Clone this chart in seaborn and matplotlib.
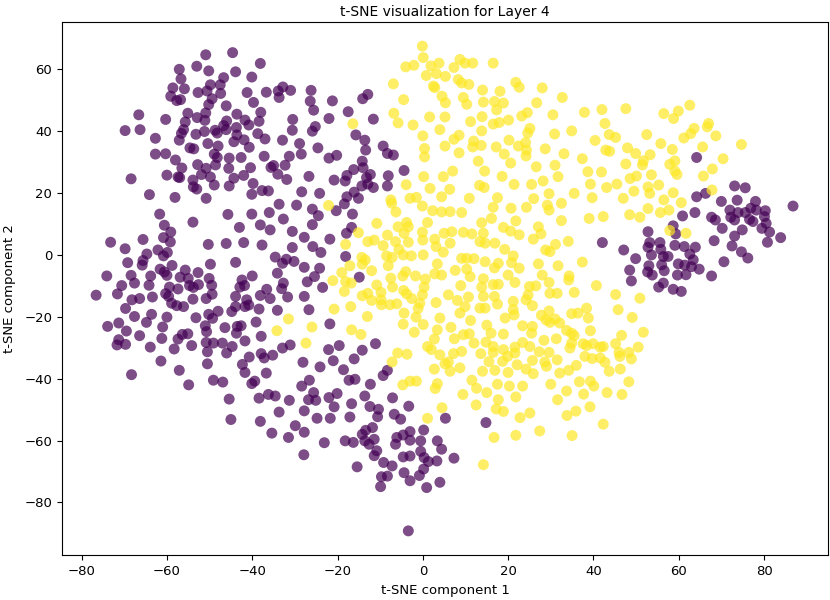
import matplotlib
matplotlib.use("Agg")
import matplotlib.pyplot as plt
import seaborn as sns
import pandas as pd

# Class 0 (purple) points
class0_points = [
    (-50.9,64.7),(-44.6,65.4),(-57.1,60.0),(-53.0,61.0),(-50.2,59.5),(-43.9,59.2),(-56.7,56.9),(-46.7,57.3),(-40.1,57.5),
    (-58.6,54.0),(-55.9,53.7),(-49.8,55.0),(-47.5,55.0),(-52.7,52.5),(-50.6,53.0),(-47.4,52.2),(-41.2,52.5),(-59.1,51.3),
    (-57.7,49.9),(-56.8,50.2),(-49.4,50.5),(-50.2,48.6),(-46.1,48.2),(-39.7,49.3),(-66.6,45.3),(-60.3,43.8),(-55.1,45.8),
    (-50.9,45.9),(-52.9,44.4),(-51.1,43.5),(-43.6,45.5),(-41.7,43.6),(-69.8,40.2),(-66.3,40.5),(-55.7,43.0),(-56.1,40.5),
    (-46.0,43.3),(-46.7,41.8),(-48.7,40.3),(-43.7,41.2),(-40.8,42.0),(-51.2,39.9),(-53.2,39.0),(-48.2,39.4),(-46.1,40.5),
    (-56.6,39.3),(-62.7,37.7),(-57.1,37.1),(-43.6,38.8),(-41.9,37.2),(-44.3,36.6),(-50.4,36.0),(-48.0,35.2),(-40.7,34.8),
    (-54.6,34.6),(-53.7,34.3),(-62.7,32.6),(-60.3,32.7),(-48.9,32.6),(-48.2,31.5),(-45.4,31.3),(-42.6,31.5),(-58.0,30.7),
    (-52.8,29.2),(-48.6,29.1),(-56.5,28.1),(-50.8,28.0),(-45.5,28.0),(-40.4,28.2),(-68.4,24.6),(-60.0,25.8),(-57.4,25.2),
    (-57.0,25.0),(-51.9,26.0),(-49.8,25.2),(-53.9,24.2),(-44.3,24.8),(-42.0,25.7),(-53.8,22.0),(-53.0,21.3),(-48.9,22.6),
    (-45.4,22.3),(-39.8,23.1),(-64.1,19.5),(-58.1,18.6),(-50.8,18.3),(-40.1,19.6),
    (-38.1,61.9),(-36.7,52.6),(-33.9,53.0),(-32.8,54.3),(-31.0,53.2),(-33.7,50.9),(-26.2,53.2),(-26.4,49.7),(-21.2,49.8),
    (-25.6,46.8),(-38.0,46.1),(-38.4,43.2),(-30.5,43.8),(-22.0,44.1),(-17.5,46.3),(-14.1,50.5),(-12.9,51.9),(-11.6,43.9),
    (-38.7,39.2),(-37.0,37.5),(-30.6,40.3),(-25.2,41.5),(-25.9,40.0),(-32.9,37.1),(-28.9,36.0),(-24.6,34.6),(-15.7,38.8),
    (-13.6,37.1),(-13.4,33.9),(-9.3,35.2),(-8.3,32.8),(-6.9,32.3),(-37.2,31.9),(-31.3,31.9),(-28.5,32.6),(-22.0,31.3),
    (-20.2,32.2),(-14.2,30.3),(-35.6,28.3),(-35.0,28.9),(-32.3,29.0),(-34.0,26.1),(-31.9,24.4),(-26.7,25.4),(-20.8,24.2),
    (-18.2,23.9),(-17.8,25.7),(-16.2,27.6),(-14.0,28.2),(-12.3,26.0),(-13.2,25.0),(-12.9,22.9),(-11.6,21.8),(-8.3,22.3),
    (-8.1,25.6),(-4.4,27.3),(-14.3,22.3),(-16.1,20.3),(-37.7,20.8),(-36.2,20.7),(-28.4,20.4),(-24.2,19.9),(-17.8,18.8),
    (-15.1,18.3),
    (-61.7,13.2),(-53.9,10.6),(-45.7,13.1),(-40.1,13.2),(-60.6,9.6),(-59.1,7.4),(-43.0,8.9),(-73.2,4.1),(-65.6,5.0),
    (-60.8,5.6),(-59.2,4.2),(-50.3,3.4),(-46.1,3.7),(-42.0,4.0),(-69.8,2.0),(-62.1,1.6),(-59.9,0.8),(-60.8,-0.3),
    (-64.7,0.3),(-65.6,-1.8),(-65.8,-3.3),(-69.2,-2.5),(-49.8,-3.0),(-43.9,-2.4),(-58.8,-3.4),(-61.6,-4.6),(-60.6,-5.5),
    (-60.0,-6.6),(-55.7,-4.9),(-52.7,-5.7),(-74.1,-6.8),(-68.4,-6.6),(-63.8,-6.8),(-56.9,-7.2),(-55.0,-7.6),(-50.1,-7.6),
    (-40.0,-6.8),(-42.4,-8.1),(-67.6,-9.1),(-70.6,-9.9),(-64.2,-9.8),(-59.4,-10.4),(-57.4,-11.0),(-54.7,-9.9),(-53.8,-10.5),
    (-49.5,-9.8),(-52.6,-9.6),(-42.9,-10.4),(-41.8,-9.9),(-76.6,-13.0),(-71.6,-12.6),(-63.4,-13.6),(-60.3,-12.5),(-59.6,-13.4),
    (-68.2,-14.5),(-66.4,-14.1),(-53.9,-14.3),(-50.8,-14.1),(-49.4,-12.7),(-43.9,-13.4),(-58.9,-15.6),(-57.7,-16.4),(-56.1,-16.7),
    (-41.3,-14.5),(-69.7,-17.3),(-48.0,-18.2),(-44.8,-18.3),(-43.9,-16.7),(-41.7,-16.7),(-40.8,-16.2),(-67.6,-19.9),(-63.6,-19.2),
    (-60.0,-20.1),(-53.2,-20.3),(-50.2,-19.2),(-49.3,-20.5),(-73.9,-23.1),(-71.3,-22.0),(-64.8,-21.8),(-61.0,-23.3),(-51.0,-22.9),
    (-46.4,-23.5),(-43.5,-23.1),(-42.6,-22.9),(-69.5,-24.6),(-50.7,-24.8),(-43.7,-25.3),(-66.4,-26.1),(-61.2,-27.0),(-56.4,-25.7),
    (-55.1,-25.5),(-57.4,-27.2),(-71.3,-27.4),(-71.7,-29.1),(-69.7,-28.9),(-63.9,-29.8),(-58.3,-30.4),(-54.2,-29.3),(-50.8,-28.3),
    (-49.1,-28.5),(-47.0,-28.5),(-44.7,-29.6),(-41.7,-27.8),(-50.5,-31.3),(-46.0,-31.7),(-40.7,-33.0),(-61.4,-34.3),(-50.5,-35.2),
    (-42.3,-35.4),(-41.7,-38.0),(-57.1,-37.3),(-68.3,-38.7),
    (-54.9,-42.0),(-49.1,-40.5),(-46.9,-41.1),(-45.4,-46.6),(-45.0,-53.2),(-40.1,-41.6),(-39.4,-40.8),
    (-33.7,16.4),(-29.6,16.1),(-25.9,14.8),(-24.5,12.7),(-20.3,14.3),(-18.4,16.5),(-16.5,13.2),(-36.0,13.7),(-32.7,11.6),
    (-38.1,9.7),(-35.8,8.1),(-30.6,7.6),(-25.9,9.8),(-16.7,8.9),(-17.9,7.0),(-27.8,5.7),(-21.8,5.1),(-37.7,3.2),
    (-30.6,2.4),(-25.8,2.7),(-23.9,0.8),(-18.1,-0.5),(-34.6,-0.7),(-32.0,-1.4),(-32.9,-2.7),(-30.2,-2.1),(-27.8,-4.0),
    (-24.2,-4.3),(-14.9,-7.2),(-34.1,-5.9),(-25.4,-7.0),(-27.1,-8.7),(-32.7,-9.1),(-33.1,-10.9),(-23.5,-10.5),(-36.6,-11.1),
    (-38.1,-13.1),(-35.8,-14.1),(-31.7,-13.6),(-27.8,-13.4),(-38.4,-17.5),(-34.1,-17.9),(-26.7,-17.7),(-39.1,-21.7),(-21.8,-22.3),
    (-37.9,-26.3),(-31.1,-29.1),(-32.9,-30.1),(-11.1,-28.7),(-22.1,-30.6),(-19.6,-29.3),(-14.2,-30.8),(-37.9,-31.9),(-35.2,-32.4),
    (-37.2,-33.3),(-28.1,-34.7),(-21.0,-34.2),(-16.1,-33.6),(-24.1,-36.2),(-18.6,-37.1),(-8.3,-37.3),(-9.3,-39.0),(-36.7,-38.2),
    (-38.4,-46.3),(-36.2,-45.1),(-34.6,-45.6),(-31.3,-47.0),(-28.4,-42.4),(-26.6,-40.5),(-25.6,-44.5),(-26.8,-46.8),(-25.1,-47.0),
    (-22.0,-46.1),(-20.1,-44.8),(-20.8,-49.1),(-17.3,-40.5),(-15.9,-40.2),(-12.3,-41.8),(-33.7,-50.8),(-27.8,-50.4),(-38.1,-53.8),
    (-24.8,-52.8),(-21.7,-52.8),(-16.7,-48.1),(-17.1,-52.4),(-13.6,-45.6),(-12.4,-49.0),(-10.4,-49.9),(-10.6,-52.3),(-7.1,-46.2),
    (-6.7,-51.5),(-5.2,-53.1),(-3.3,-48.9),(-29.9,-55.2),(-35.4,-57.6),(-31.5,-59.0),(-27.8,-57.3),(-23.1,-60.7),(-18.2,-60.1),
    (-16.3,-60.6),(-14.2,-58.0),(-13.4,-56.7),(-11.8,-55.8),(-13.6,-60.1),(-12.6,-61.2),(-11.4,-59.6),(-10.8,-63.3),(-11.4,-64.9),
    (-27.9,-64.6),(-9.2,-67.1),(-7.2,-68.2),(-15.4,-68.5),(-9.7,-71.7),(-8.3,-71.5),(-9.9,-74.9),(-6.1,-59.0),(-4.6,-58.2),
    (-3.0,-57.1),(0.2,-56.6),(-6.4,-61.2),(-3.0,-59.9),(-0.5,-60.1),(3.4,-60.1),(4.4,-62.8),(-4.6,-65.3),(-3.0,-65.0),
    (-0.5,-63.5),(0.3,-65.5),(1.3,-66.8),(3.3,-66.6),(0.2,-69.2),(-4.4,-70.4),(-0.8,-71.3),(-3.0,-73.0),(0.9,-75.2),
    (4.0,-73.5),(-3.4,-89.2),(5.3,-52.8),(14.8,-54.2),(7.3,-65.7),
    (42.1,4.0),(47.1,1.6),(49.9,-1.2),(48.5,-4.9),(48.9,-8.4),
    (64.2,31.5),(73.1,22.3),(75.6,21.7),(64.2,18.8),(66.3,19.9),
    (70.0,17.3),(73.7,17.7),(78.0,17.3),(86.8,15.8),(72.0,14.5),(73.9,13.7),(75.6,13.7),(76.9,15.1),(78.2,14.5),
    (80.3,14.3),(63.8,13.7),(60.9,12.6),(67.7,12.2),(68.6,11.3),(72.2,12.2),(73.1,11.3),(76.6,11.5),(77.4,10.8),
    (80.1,12.4),(80.5,10.2),(58.7,9.4),(59.3,6.8),(52.8,7.5),(70.2,8.6),(74.9,8.1),(79.5,8.6),(81.3,7.4),
    (83.9,5.6),(73.1,6.1),(80.8,4.1),(68.3,4.6),(53.2,4.0),(55.6,4.0),(59.1,3.1),(61.3,2.7),(63.9,2.5),
    (52.8,2.5),(55.8,1.8),(72.5,2.9),(74.7,1.0),(76.2,-1.0),(62.6,0.3),(53.6,0.0),(56.4,-0.5),(57.5,-0.5),
    (63.4,-1.6),(70.6,-2.2),(59.9,-2.9),(61.4,-3.3),(56.0,-3.2),(53.0,-3.5),(63.0,-3.8),(64.8,-4.6),(52.7,-5.5),
    (56.6,-5.1),(53.8,-6.5),(59.7,-6.5),(61.7,-6.4),(67.7,-6.8),(56.4,-9.1),(55.3,-10.4),(58.7,-11.1),(60.6,-11.8),
]

# Class 1 (yellow) points
class1_points = [
    (-0.1,67.5),(0.1,63.8),(-4.0,60.8),(-2.1,61.3),(1.9,61.1),(3.8,62.0),(0.8,58.0),(3.2,58.6),(5.3,57.7),
    (-6.9,55.3),(2.5,54.6),(2.8,54.1),(4.5,51.3),(-4.5,50.2),(5.3,49.2),(-6.8,45.8),(1.6,44.6),(-5.8,42.7),
    (-2.3,42.0),(5.2,44.6),(-16.4,42.4),(4.0,40.5),(0.0,38.5),(0.4,34.4),(0.4,31.7),(5.2,35.2),(0.2,25.3),
    (4.8,25.3),(-3.9,22.7),(1.7,21.5),(-3.0,18.3),(-1.5,18.6),(4.4,18.8),(-7.5,17.8),
    (8.7,63.2),(7.3,60.6),(9.9,62.0),(11.7,62.0),(16.5,62.0),(8.3,56.7),(9.1,55.6),(10.8,55.1),(21.8,55.8),
    (22.6,54.2),(28.0,54.0),(14.0,53.3),(18.1,52.9),(32.7,50.9),(9.5,50.9),(10.3,48.7),(14.2,49.4),(16.8,49.6),
    (18.9,49.1),(26.7,49.2),(17.3,46.9),(24.5,46.0),(23.2,44.9),(30.5,45.3),(37.9,46.1),(42.0,47.0),(47.6,47.3),
    (13.9,44.7),(11.2,43.1),(16.5,42.3),(17.9,42.8),(20.1,43.6),(25.1,40.9),(24.6,39.4),(30.9,39.1),(34.9,40.1),
    (42.7,42.5),(43.7,38.9),(45.2,38.0),(13.8,40.1),(8.5,38.7),(7.3,37.4),(11.9,36.8),(11.7,34.9),(13.7,35.4),
    (20.2,37.1),(24.1,36.3),(17.2,34.9),(22.4,35.2),(24.3,33.9),(24.2,32.0),(28.7,34.3),(40.4,37.0),(42.9,33.9),
    (43.8,33.5),(48.0,34.6),(49.9,32.8),(8.5,33.0),(19.1,32.6),(33.1,32.7),(13.0,30.3),(20.6,29.7),(26.6,28.5),
    (31.0,29.0),(37.4,31.1),(47.6,29.4),(7.0,27.1),(14.5,27.1),(38.7,26.9),(41.9,26.8),(18.6,25.4),(31.7,25.3),
    (48.6,24.7),(50.1,25.5),(6.3,21.2),(13.3,22.5),(14.4,21.8),(21.4,22.8),(25.5,22.8),(28.2,23.9),(39.3,22.9),
    (43.1,21.8),(45.5,22.9),(49.5,20.6),(10.9,18.3),(17.5,18.5),(26.0,18.2),(29.6,19.8),(35.5,19.9),(39.7,18.5),
    (47.0,18.3),
    (62.6,48.4),(56.5,45.7),(59.9,46.5),(58.8,44.1),(67.0,42.5),(66.7,41.4),(63.6,40.9),(62.8,39.2),(61.2,37.8),
    (68.7,38.5),(52.5,38.9),(55.8,36.0),(58.5,34.1),(65.6,34.9),(74.7,35.7),(53.3,32.4),(51.7,30.4),(51.5,29.1),
    (59.1,30.4),(57.9,29.3),(70.4,31.1),(67.9,27.8),(59.1,27.1),(59.6,26.0),(53.6,25.9),(65.8,25.5),(55.3,22.6),
    (52.8,22.0),(53.2,19.9),(58.7,20.1),(67.8,21.0),(56.5,17.8),
    (60.6,16.9),(52.8,15.0),(55.7,13.7),(57.7,14.5),(50.9,12.2),(57.9,7.9),(61.7,7.0),(50.9,-14.0),(51.7,-25.0),
    (-22.1,16.0),(-7.3,16.7),(-6.3,13.9),(-0.1,15.8),(2.3,14.3),(4.4,13.9),(-10.8,10.2),(-5.8,9.1),(-3.8,10.5),
    (-3.4,9.1),(1.1,10.5),(-15.1,7.2),(-8.3,6.4),(-4.4,7.0),(-0.1,7.4),(5.0,7.0),(-18.1,3.4),(-12.9,4.3),
    (-11.4,4.8),(-9.3,3.0),(-6.4,4.3),(-3.4,4.1),(0.0,4.8),(2.8,5.1),(3.1,2.7),(4.8,0.9),(-14.3,-0.8),
    (-13.5,-1.6),(-8.5,-0.3),(-5.6,1.8),(-4.6,0.0),(-2.7,-0.3),(0.1,0.0),(-17.1,-3.5),(-14.2,-3.0),(-8.1,-3.5),
    (-7.2,-0.8),(3.4,-2.9),(-19.0,-5.7),(-12.0,-5.1),(-7.5,-7.5),(-4.0,-5.4),(-4.7,-6.8),(-1.7,-6.8),(0.6,-7.8),
    (2.8,-6.1),(4.4,-6.5),(-21.1,-8.3),(-18.1,-8.6),(-16.8,-9.1),(-18.4,-11.8),(-10.8,-9.7),(-7.1,-10.4),(0.3,-10.4),
    (-9.8,-12.1),(-14.2,-13.2),(-12.9,-12.4),(-4.5,-11.5),(-3.8,-12.6),(-2.6,-14.1),(-0.1,-12.9),(-12.0,-14.7),(-9.8,-14.5),
    (-9.7,-16.1),(-7.7,-16.1),(-6.1,-15.8),(-0.7,-15.6),(-1.1,-17.3),(3.1,-15.4),(-20.8,-17.5),(-16.9,-16.7),(-4.4,-18.8),
    (-13.0,-19.9),(-1.6,-20.1),(4.0,-20.4),(-31.5,-20.7),(-4.6,-22.4),(0.1,-22.5),(-26.0,-23.3),(-16.7,-24.2),(3.4,-24.2),
    (-34.2,-24.5),(-14.5,-25.7),(-2.0,-25.0),(2.7,-27.2),(-27.4,-28.5),(1.1,-29.6),(2.0,-30.6),(-5.9,-31.7),(-3.7,-32.1),
    (4.0,-32.3),(-7.2,-34.6),(5.2,-35.2),(2.7,-36.9),
    (6.4,14.0),(9.1,13.7),(16.5,15.4),(20.7,15.1),(24.3,15.4),(29.2,16.1),(29.6,14.5),(32.5,16.7),(39.0,11.8),
    (42.3,12.4),(48.5,13.0),(13.8,10.4),(16.1,11.8),(21.8,11.0),(32.5,11.1),(27.1,9.1),(6.8,7.5),(9.5,7.3),
    (11.5,6.8),(14.2,7.0),(18.9,8.9),(20.6,7.7),(22.6,6.5),(27.7,6.8),(25.9,5.1),(6.4,3.8),(13.4,4.3),
    (14.6,3.8),(16.9,3.8),(31.1,3.4),(34.1,4.4),(28.8,1.6),(29.8,1.1),(19.2,1.8),(9.1,-1.1),(10.3,-1.1),
    (12.0,-1.2),(14.6,-2.2),(21.2,-0.3),(20.8,-2.5),(17.7,-2.7),(16.8,-4.2),(22.6,-4.3),(27.1,-2.9),(31.7,-3.5),
    (37.4,-2.3),(7.6,-5.0),(10.3,-4.6),(11.1,-7.0),(20.0,-6.5),(28.0,-6.5),(34.3,-6.8),(34.2,-8.1),(14.2,-7.7),
    (13.8,-10.4),(16.5,-9.6),(17.7,-9.5),(21.6,-8.9),(25.0,-10.2),(26.5,-10.0),(29.6,-8.9),(40.7,-9.9),(8.9,-9.9),
    (6.0,-12.9),(10.7,-13.6),(14.2,-13.4),(16.8,-13.4),(24.7,-12.9),(24.2,-14.5),(29.8,-12.4),(31.5,-12.4),(35.5,-12.1),
    (45.2,-12.8),(8.1,-14.7),(9.9,-16.7),(13.4,-17.2),(14.6,-17.2),(17.5,-15.9),(21.2,-15.0),(25.7,-16.4),(8.7,-18.8),
    (21.2,-17.7),(21.4,-19.4),(29.6,-18.1),(34.9,-19.0),(36.4,-18.8),(38.4,-17.2),(38.8,-20.4),(45.8,-17.7),(49.1,-20.2),
    (19.3,-20.4),(11.2,-21.2),(27.8,-19.5),(28.9,-21.0),(31.0,-20.7),(29.8,-21.8),(32.1,-22.0),(6.6,-23.4),(15.0,-22.7),
    (23.4,-22.9),(25.7,-23.1),(33.7,-24.4),(34.9,-25.3),(35.5,-26.1),(39.3,-24.5),(9.5,-25.8),(10.9,-25.5),(7.4,-27.1),
    (16.0,-25.3),(18.9,-25.6),(25.5,-25.3),(31.3,-27.1),(46.6,-26.0),(28.4,-27.6),(12.0,-28.5),(14.8,-28.2),(16.5,-29.6),
    (18.9,-30.6),(21.6,-29.8),(23.4,-28.3),(25.1,-29.6),(34.9,-28.5),(34.5,-30.1),(37.6,-28.7),(38.4,-29.3),(39.9,-28.7),
    (41.6,-29.8),(42.3,-29.6),(45.2,-28.7),(50.5,-29.8),(7.2,-31.9),(9.1,-31.2),(13.6,-31.9),(16.5,-31.5),(19.9,-32.8),
    (21.6,-31.7),(27.3,-31.3),(29.6,-31.5),(25.7,-34.1),(31.5,-33.9),(38.0,-32.8),(39.7,-33.5),(41.6,-33.3),(46.2,-32.8),
    (48.3,-31.5),(46.0,-31.5),(6.0,-34.6),(8.7,-36.5),(6.4,-37.6),(15.5,-34.5),(18.7,-34.4),(22.1,-35.5),(24.2,-36.9),
    (28.6,-34.6),(29.0,-36.0),(36.0,-35.7),(34.2,-37.3),(42.7,-34.7),(46.3,-36.9),(48.9,-33.6),(14.0,-37.6),(16.9,-37.3),
    (20.0,-38.0),(25.9,-38.4),(32.1,-38.2),(43.7,-37.6),
    (-4.7,-42.0),(-3.0,-40.8),(-1.5,-40.8),(3.4,-41.6),(2.9,-43.2),(4.5,-49.4),(1.1,-52.8),
    (11.5,-40.5),(17.5,-41.8),(20.3,-42.4),(23.4,-42.4),(30.0,-41.8),(36.7,-41.0),(39.3,-40.8),(40.1,-42.4),(48.3,-41.0),
    (9.4,-45.1),(12.6,-43.1),(15.0,-44.5),(17.7,-46.8),(21.8,-45.9),(31.6,-46.8),(33.7,-44.0),(37.7,-45.0),(43.2,-44.5),
    (46.7,-45.1),(12.5,-48.5),(17.2,-49.8),(18.9,-50.6),(22.8,-52.6),(25.1,-51.1),(33.8,-51.9),(35.9,-50.5),(39.2,-49.1),
    (42.3,-54.7),(16.7,-59.0),(21.8,-58.3),(27.4,-56.9),(35.0,-58.4),(14.2,-67.8),
]

class_labels = [0, 1]
class_colors = ["#440154", "#fde725"]

title_text = "t-SNE visualization for Layer 4"
xlabel_text = "t-SNE component 1"
ylabel_text = "t-SNE component 2"

rows = []
for lab, pts in zip(class_labels, [class0_points, class1_points]):
    for x, y in pts:
        rows.append({"x": x, "y": y, "label": lab})
df = pd.DataFrame(rows)

plt.rcParams['font.family'] = ['DejaVu Sans']
fig = plt.figure(figsize=(8.3, 6.0), dpi=100)
ax = fig.add_axes([62/830, 45/600, 766/830, 533/600])

sns.scatterplot(data=df, x="x", y="y", hue="label",
                palette=dict(zip(class_labels, class_colors)),
                alpha=0.7, s=62, linewidth=0, legend=False, ax=ax)

ax.set_xlim(-84.6, 95.0)
ax.set_ylim(-97.0, 75.3)
ax.set_title(title_text, fontsize=10, pad=4)
ax.set_xlabel(xlabel_text, fontsize=9.5, labelpad=4.5)
ax.set_ylabel(ylabel_text, fontsize=9.5, labelpad=6)
ax.tick_params(labelsize=9.5)

fig.savefig("out.png", dpi=100)
